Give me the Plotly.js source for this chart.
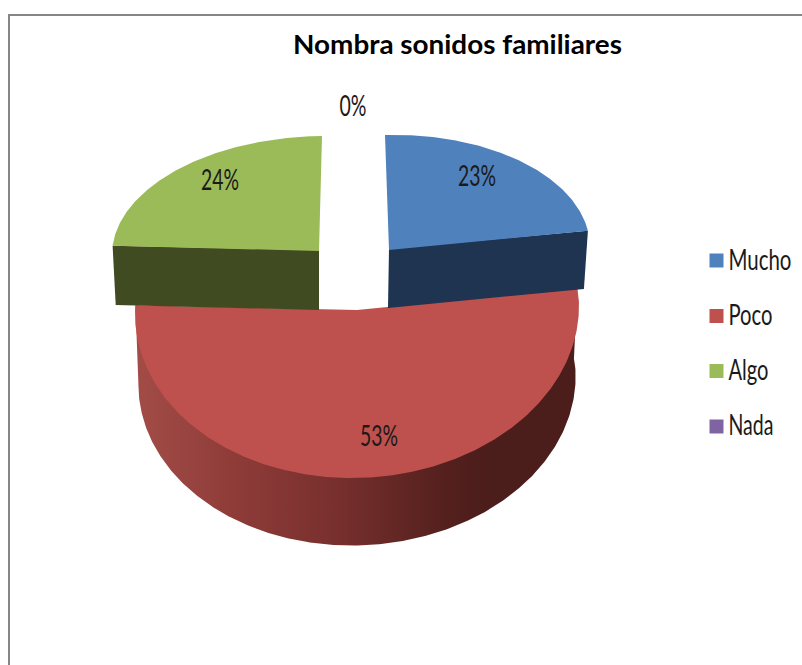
<!DOCTYPE html>
<html><head><meta charset="utf-8">
<script src="https://cdn.plot.ly/plotly-3.0.1.min.js"></script>
<style>html,body{margin:0;padding:0;background:#fff}#c{width:802px;height:665px}</style>
</head><body><div id="c"></div>
<script>
const chartTitle = "Nombra sonidos familiares";
const categories = ["Mucho","Poco","Algo","Nada"];
const values = [23,53,24,0];
const colors = ["#4F81BD","#BE504D","#9BBB59","#8064A2"];
const wallColors = ["#1F3450","#4E1F1C","#414B21","#40325A"];

// Drawing geometry for the tilted, exploded pie (pixel space of the hidden axes)
const geom = {
  Mucho:{ax:389,ay:250,rx:201,up:115,down:115,sx:-4,sy:-5,dx:-1,dy:58,shrink:0.98},
  Poco: {ax:357,ay:310,rx:222,up:140,down:168,sx:0,sy:-4,dx:0,dy:70,shrink:0.985},
  Algo: {ax:319,ay:251,rx:207,up:115,down:115,sx:3,sy:-2,dx:0,dy:59,shrink:0.985},
  Nada: {ax:354,ay:250,rx:200,up:115,down:115,sx:0,sy:0,dx:0,dy:58,shrink:0.985}
};
const labelX = [477,379,220,353];
const labelY = [179,439,183,109];
const labelWidth = [38,38,38,27];
const legendMarkY = [260.5,316,371,426.5];
const legendTextY = [263,318,373,428];
const legendMarkX = 716.5;
const legendTextX = 728.5;
const legendTextWidth = [63,44,40,45];
const FONT = 'Lato,"Open Sans",sans-serif';

const total = values.reduce((a,b)=>a+b,0);
let cum = 0;
const sweeps = values.map(v=>{const s=[cum/total*2*Math.PI,(cum+v)/total*2*Math.PI];cum+=v;return s;});
function rim(g,th,k,oy){
  const u=Math.sin(th), v=Math.cos(th);
  return [g.ax+u*g.rx*k+g.sx*v, g.ay+oy-v*(v>0?g.up:g.down)*k+g.sy*u];
}
function arc(g,a,b,k,oy){
  const n=Math.max(2,Math.ceil((b-a)/0.01)), pts=[];
  for(let i=0;i<=n;i++) pts.push(rim(g,a+(b-a)*i/n,k,oy));
  return pts;
}
function poly(pts,extra){
  return Object.assign({x:pts.map(p=>p[0]),y:pts.map(p=>p[1]),mode:'lines',fill:'toself',
    line:{width:0},hoverinfo:'skip',showlegend:false,type:'scatter'},extra);
}
const traces=[];
function wall(i){
  const g=geom[categories[i]], [a,b]=sweeps[i];
  if(values[i]===0) return;
  if(categories[i]==="Poco"){
    const top=[rim(g,a,1,0)].concat(arc(g,a,b,0.985,0),[rim(g,b,1,0)]), bot=arc(g,a,b,g.shrink,g.dy).reverse();
    traces.push(poly(top.concat(bot),{fillgradient:{type:'horizontal',colorscale:[
      [0,'#A34C47'],[0.25,'#8C3A37'],[0.45,'#78302E'],[0.7,'#54201D'],[0.8,'#4B1D1B'],[1,'#4B1D1B']]}}));
  } else {
    const tip = i===0 ? rim(g,b,1,0) : rim(g,a,1,0);
    const tip2 = i===0 ? rim(g,b,g.shrink,g.dy) : rim(g,a,g.shrink,g.dy);
    traces.push(poly([[g.ax,g.ay-1],tip,tip2,[g.ax+g.dx,g.ay+g.dy]],{fillcolor:wallColors[i]}));
  }
}
function face(i){
  const g=geom[categories[i]], [a,b]=sweeps[i];
  if(values[i]===0) return;
  traces.push(poly([[g.ax,g.ay]].concat(arc(g,a,b,1,0)),{fillcolor:colors[i]}));
}
[1,2,0].forEach(i=>{wall(i);face(i);});

traces.push({type:'scatter',mode:'text',x:labelX,y:labelY,showlegend:false,hoverinfo:'skip',
  text:values.map(v=>Math.round(v/total*100)+'%'),
  textfont:{family:FONT,size:29,color:'#1a1a1a'},textposition:'middle center'});
categories.forEach((c,i)=>{
  traces.push({type:'scatter',mode:'markers',name:c,x:[legendMarkX],y:[legendMarkY[i]],
    showlegend:false,hoverinfo:'skip',marker:{symbol:'square',size:14,color:colors[i],line:{width:0}}});
  traces.push({type:'scatter',mode:'text',name:c,x:[legendTextX],y:[legendTextY[i]],
    text:[c],textposition:'middle right',showlegend:false,hoverinfo:'skip',
    textfont:{family:FONT,size:29,color:'#1a1a1a'}});
});

const layout={width:802,height:665,margin:{l:0,r:0,t:0,b:0},paper_bgcolor:'#fff',plot_bgcolor:'#fff',
  showlegend:false,
  title:{text:chartTitle,x:457.5/802,xanchor:'center',y:1-45/665,yanchor:'middle',
    font:{family:'Lato,"Open Sans",sans-serif',size:27,weight:700,color:'#000'}},
  xaxis:{range:[0,802],visible:false,fixedrange:true},
  yaxis:{range:[665,0],visible:false,fixedrange:true},
  shapes:[
    {type:'line',x0:9,x1:802,y0:15,y1:15,line:{color:'#868686',width:2}},
    {type:'line',x0:9,x1:9,y0:14,y1:665,line:{color:'#868686',width:2}}
  ]};
Plotly.newPlot('c',traces,layout,{staticPlot:true,displayModeBar:false}).then(()=>{
  // The reference font is narrow: squeeze each real text to its measured width about its anchor.
  const fit=(el,w)=>{
    const x=parseFloat(el.getAttribute('x'))||0, s=w/el.getComputedTextLength();
    const old=el.getAttribute('transform')||'';
    el.setAttribute('transform',`${old} translate(${x},0) scale(${s},1) translate(${-x},0)`);
  };
  const pct=values.map(v=>Math.round(v/total*100)+'%');
  document.querySelectorAll('#c .textpoint text').forEach(t=>{
    const s=t.textContent, i=categories.indexOf(s);
    if(i>=0) fit(t,legendTextWidth[i]); else fit(t,labelWidth[pct.indexOf(s)]);
  });
  const tt=document.querySelector('#c .gtitle'); if(tt) fit(tt,329);
});
</script></body></html>
